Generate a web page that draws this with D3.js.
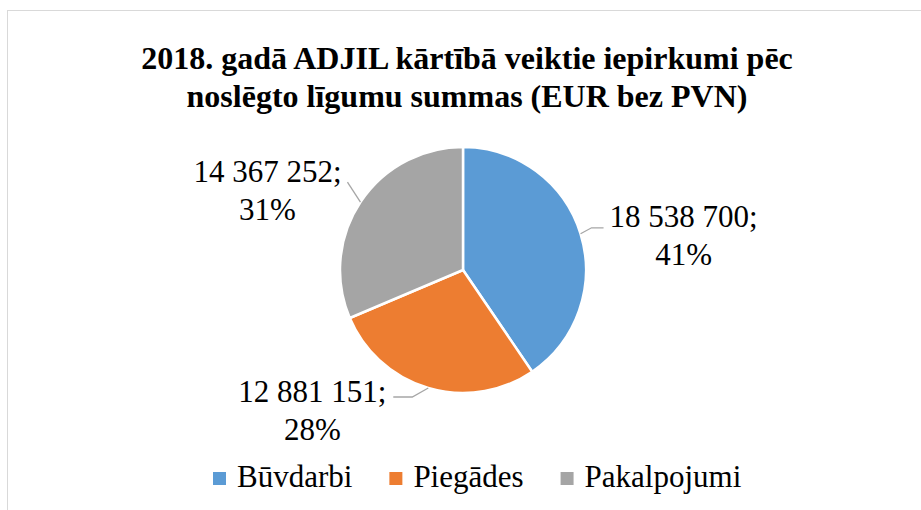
<!DOCTYPE html>
<html>
<head>
<meta charset="utf-8">
<script src="https://cdn.jsdelivr.net/npm/d3@7"></script>
<style>
  body { margin: 0; background: #fff; }
  text { font-family: "Liberation Serif", "Times New Roman", "DejaVu Serif", serif; }
</style>
</head>
<body>
<script>
// data
var categories = ["Būvdarbi", "Piegādes", "Pakalpojumi"];
var values = [18538700, 12881151, 14367252];
var percents = ["41%", "28%", "31%"];
var titleLines = ["2018. gadā ADJIL kārtībā veiktie iepirkumi pēc", "noslēgto līgumu summas (EUR bez PVN)"];

var width = 921, height = 510;
var cx = 463, cy = 270, radius = 123;

var color = d3.scaleOrdinal()
    .domain(categories)
    .range(["#5B9BD5", "#ED7D31", "#A5A5A5"]);

// value label formatting: "18 538 700"
var fmt = function(v) { return d3.format(",")(v).replace(/,/g, " "); };

var svg = d3.select("body").append("svg")
    .attr("width", width)
    .attr("height", height);

// chart frame
svg.append("rect")
    .attr("x", 7.5).attr("y", 10.5)
    .attr("width", 930).attr("height", 520)
    .attr("fill", "#fff")
    .attr("stroke", "#d9d9d9")
    .attr("stroke-width", 1);

// title
svg.append("text")
    .attr("text-anchor", "middle")
    .style("font-size", "32px")
    .style("font-weight", "bold")
    .selectAll("tspan")
    .data(titleLines)
    .enter().append("tspan")
    .attr("x", 467)
    .attr("y", function(d, i) { return 69 + i * 38; })
    .text(function(d) { return d; });

var pie = d3.pie().sort(null).value(function(d) { return d; });
var arcs = pie(values);

var arc = d3.arc().innerRadius(0).outerRadius(radius);

var g = svg.append("g").attr("transform", "translate(" + cx + "," + cy + ")");

g.selectAll("path")
    .data(arcs)
    .enter().append("path")
    .attr("d", arc)
    .attr("fill", function(d, i) { return color(categories[i]); })
    .attr("stroke", "#fff")
    .attr("stroke-width", 2.5)
    .attr("stroke-linejoin", "round");

// label layout: elbow and text offsets relative to the slice edge point
var labelLayout = [
    { elbow: [11, -6], end: [23, -6], text: [103, -7] },
    { elbow: [-16, 9], end: [-35, 9], text: [-116, 14] },
    { elbow: [-13, -20], end: [-13, -20], text: [-93, -20] }
];
var lineGap = 38;

arcs.forEach(function(d, i) {
    var mid = (d.startAngle + d.endAngle) / 2;
    var ex = Math.sin(mid) * radius, ey = -Math.cos(mid) * radius;
    var L = labelLayout[i];
    g.append("polyline")
        .attr("points", [[ex, ey], [ex + L.elbow[0], ey + L.elbow[1]], [ex + L.end[0], ey + L.end[1]]].join(" "))
        .attr("fill", "none")
        .attr("stroke", "#a6a6a6")
        .attr("stroke-width", 1.3);
    var t = g.append("text")
        .attr("text-anchor", "middle")
        .style("font-size", "31px")
        .attr("fill", "#000");
    t.append("tspan")
        .attr("x", ex + L.text[0])
        .attr("y", ey + L.text[1])
        .text(fmt(values[i]) + ";");
    t.append("tspan")
        .attr("x", ex + L.text[0])
        .attr("y", ey + L.text[1] + lineGap)
        .text(percents[i]);
});

// legend
var legend = svg.append("g").attr("class", "legend");
var lx = 213, ly = 487, sq = 13;
categories.forEach(function(c, i) {
    var item = legend.append("g").attr("transform", "translate(" + lx + ",0)");
    item.append("rect")
        .attr("x", 0).attr("y", ly - 15)
        .attr("width", sq).attr("height", sq)
        .attr("fill", color(c));
    var tx = item.append("text")
        .attr("x", sq + 11)
        .attr("y", ly)
        .style("font-size", "31px")
        .text(c);
    lx += sq + 11 + tx.node().getComputedTextLength() + 37;
});
</script>
</body>
</html>
